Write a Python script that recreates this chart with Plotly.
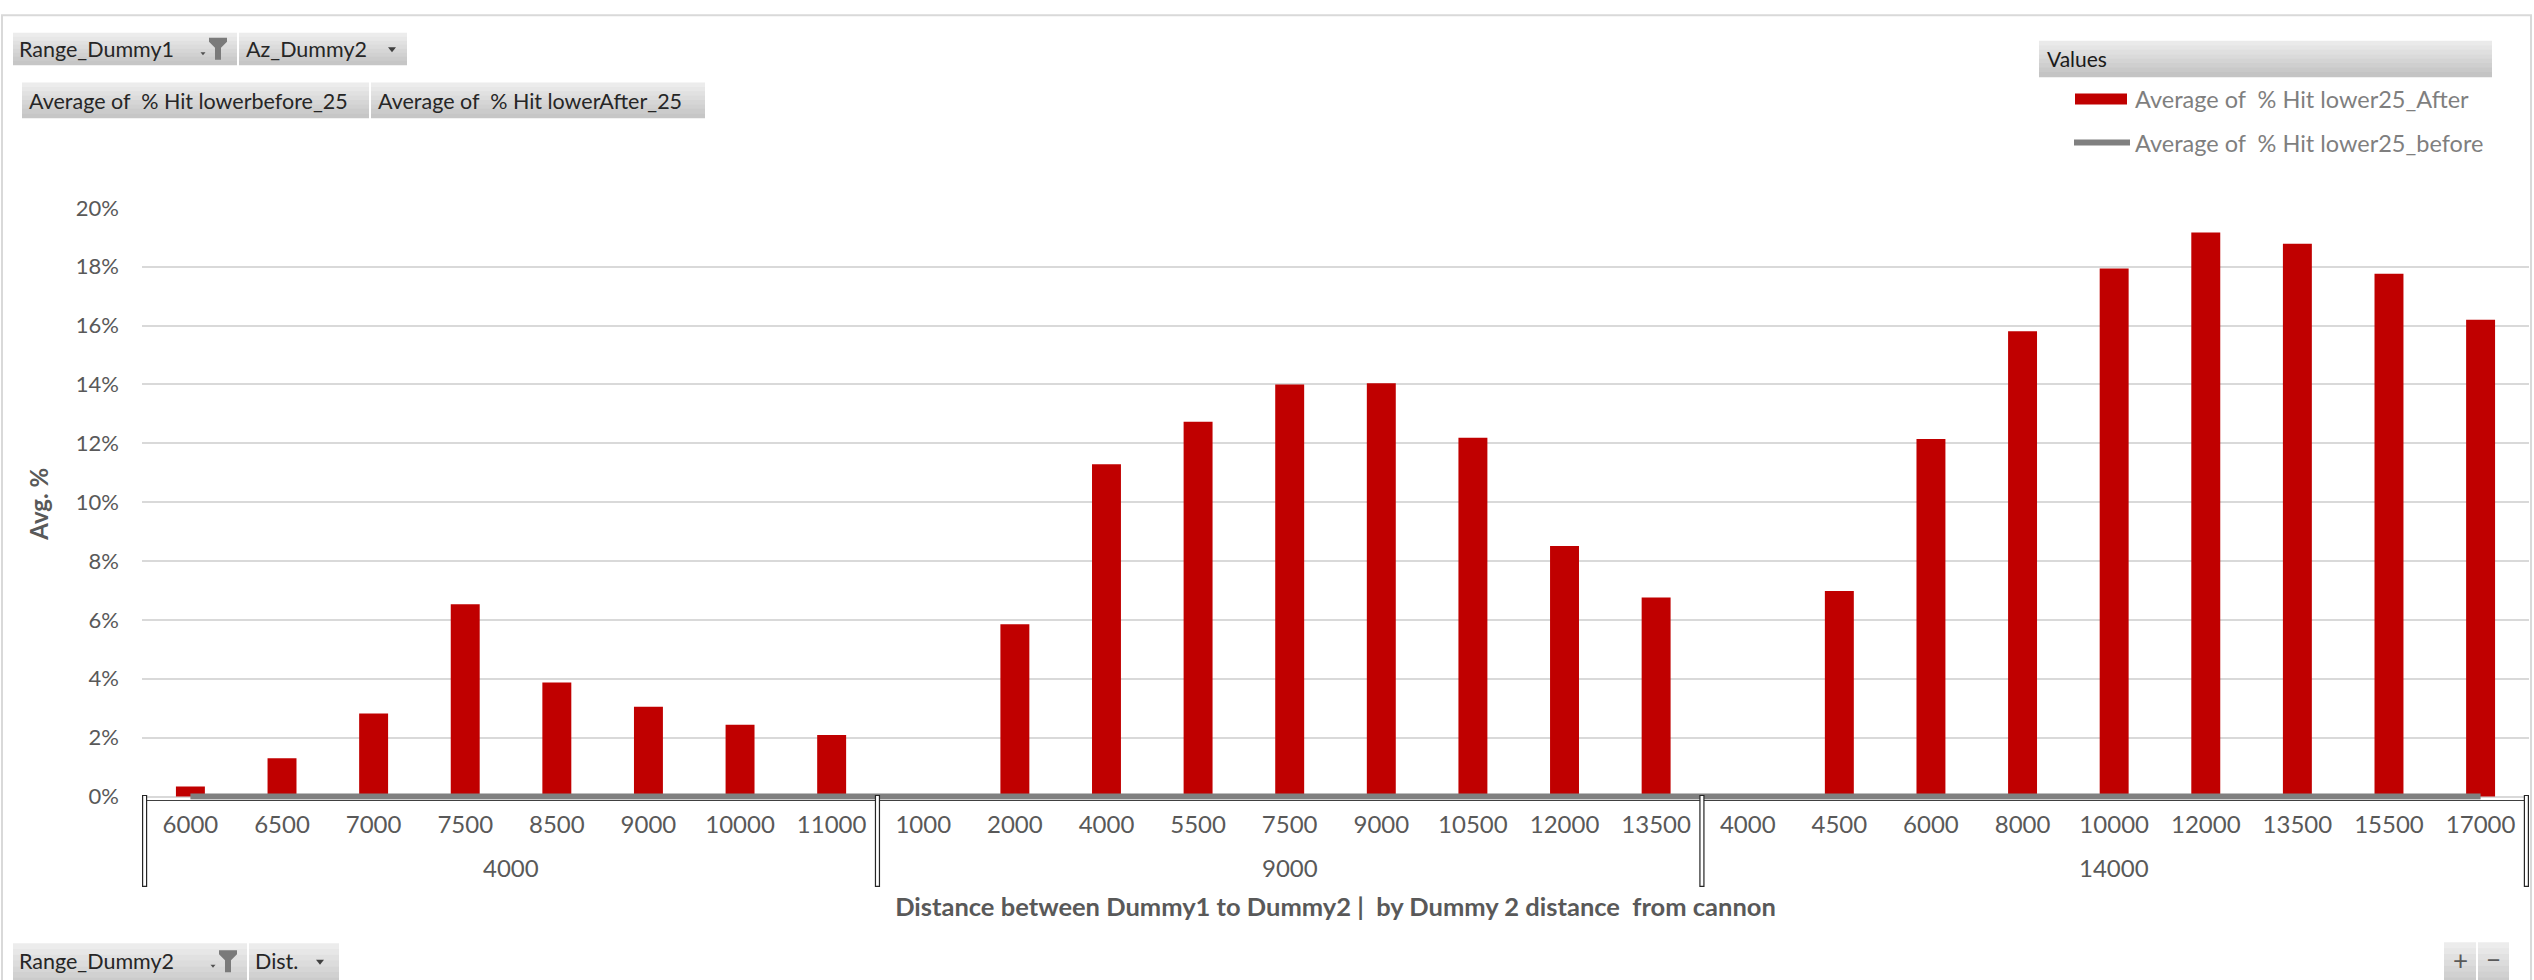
import plotly.graph_objects as go

W, H = 2534, 980

# Pivot rows: outer level = Range_Dummy2, inner level = Dist.
groups = ["4000", "9000", "14000"]
dist_4000 = ["6000", "6500", "7000", "7500", "8500", "9000", "10000", "11000"]
dist_9000 = ["1000", "2000", "4000", "5500", "7500", "9000", "10500", "12000", "13500"]
dist_14000 = ["4000", "4500", "6000", "8000", "10000", "12000", "13500", "15500", "17000"]

hit_after_4000 = [0.0034, 0.0130, 0.0282, 0.0653, 0.0387, 0.0305, 0.0244, 0.0209]
hit_after_9000 = [0.0, 0.0585, 0.1129, 0.1273, 0.1400, 0.1404, 0.1219, 0.0851, 0.0676]
hit_after_14000 = [0.0, 0.0698, 0.1215, 0.1581, 0.1794, 0.1916, 0.1878, 0.1776, 0.1620]

hit_before_4000 = [0, 0, 0, 0, 0, 0, 0, 0]
hit_before_9000 = [0, 0, 0, 0, 0, 0, 0, 0, 0]
hit_before_14000 = [0, 0, 0, 0, 0, 0, 0, 0, 0]

y_ticks = [0, 0.02, 0.04, 0.06, 0.08, 0.10, 0.12, 0.14, 0.16, 0.18, 0.20]

dist_lists = [dist_4000, dist_9000, dist_14000]
keys = [g + "|" + d for g, dl in zip(groups, dist_lists) for d in dl]
inner = dist_4000 + dist_9000 + dist_14000
after = hit_after_4000 + hit_after_9000 + hit_after_14000
before = hit_before_4000 + hit_before_9000 + hit_before_14000

RED = "#c00000"
GREY_LINE = "#808080"
TXT = "#595959"
FONT = "Lato"

# vertical placement helper: screen rows are mapped through a small
# offset/scale so the layout sits where intended in the final page
Y_OFF, Y_SCALE = 13.3, 0.977


def px(x):
    return x / W


def row(y):
    return (y - Y_OFF) / Y_SCALE


def py(y):
    return 1 - row(y) / H


fig = go.Figure()
fig.add_trace(go.Bar(
    x=keys, y=after, marker=dict(color=RED, line=dict(width=0)),
    name="Average of  % Hit lower25_After", showlegend=False,
))
fig.add_trace(go.Scatter(
    x=keys, y=before, mode="lines",
    line=dict(color=GREY_LINE, width=6),
    name="Average of  % Hit lower25_before", showlegend=False,
))

shapes = []
annotations = []


def gradient_box(x0, y0, x1, y1, top=(236, 236, 236), bottom=(198, 198, 198), n=8):
    step = (y1 - y0) / n
    for i in range(n):
        t = i / (n - 1)
        c = tuple(int(round(a + (b - a) * t)) for a, b in zip(top, bottom))
        shapes.append(dict(
            type="rect", xref="paper", yref="paper",
            x0=px(x0), x1=px(x1), y0=py(y0 + i * step), y1=py(y0 + (i + 1) * step + 0.6),
            fillcolor="rgb(%d,%d,%d)" % c, line=dict(width=0), layer="above",
        ))


def label(x, y, text, size=21.5, color="#262626", anchor="left"):
    annotations.append(dict(
        xref="paper", yref="paper", x=px(x), y=py(y), text=text,
        showarrow=False, xanchor=anchor, yanchor="middle",
        font=dict(family=FONT, size=size, color=color),
    ))


def down_arrow(cx, cy, w=8, h=5, color="#404040"):
    path = "M %f %f L %f %f L %f %f Z" % (
        px(cx - w / 2), py(cy - h / 2), px(cx + w / 2), py(cy - h / 2), px(cx), py(cy + h / 2))
    shapes.append(dict(type="path", xref="paper", yref="paper", path=path,
                       fillcolor=color, line=dict(width=0), layer="above"))


def funnel(cx, cy, color="#7a7a7a"):
    pts = [(cx - 9, cy - 11), (cx + 9, cy - 11), (cx + 9, cy - 7), (cx + 3, cy - 1),
           (cx + 3, cy + 11), (cx - 3, cy + 11), (cx - 3, cy - 1), (cx - 9, cy - 7)]
    path = "M " + " L ".join("%f %f" % (px(a), py(b)) for a, b in pts) + " Z"
    shapes.append(dict(type="path", xref="paper", yref="paper", path=path,
                       fillcolor=color, line=dict(width=0), layer="above"))
    down_arrow(cx - 15, cy + 5, w=5, h=3, color="#505050")


# outer chart frame
shapes.append(dict(type="rect", xref="paper", yref="paper", x0=px(2), x1=px(2531), y0=py(14.5), y1=py(1020),
                   line=dict(color="#d9d9d9", width=2), fillcolor="rgba(0,0,0,0)", layer="below"))

# field buttons, top rows
gradient_box(13, 32, 237, 64)
label(17, 48, "Range_Dummy1")
funnel(218, 48)
gradient_box(239, 32, 407, 64)
label(244, 48, "Az_Dummy2")
down_arrow(392, 49)
gradient_box(22, 82, 369, 117)
label(27, 100, "Average of \u00a0% Hit lowerbefore_25")
gradient_box(371, 82, 705, 117)
label(376, 100, "Average of \u00a0% Hit lowerAfter_25")

# field buttons, bottom row
gradient_box(13, 944, 247, 990)
label(17, 962, "Range_Dummy2")
funnel(228, 962)
gradient_box(249, 944, 339, 990)
label(253, 962, "Dist.")
down_arrow(320, 963)

# zoom buttons
gradient_box(2444, 943, 2476, 990)
label(2460, 961, "+", size=26, color="#595959", anchor="center")
gradient_box(2478, 943, 2509, 990)
label(2493.5, 960, "\u2212", size=26, color="#595959", anchor="center")

# legend block
gradient_box(2039, 40, 2492, 76, top=(234, 234, 234), bottom=(196, 196, 196))
label(2045, 58, "Values", size=21, color="#1a1a1a")
shapes.append(dict(type="rect", xref="paper", yref="paper", x0=px(2075), x1=px(2127), y0=py(93), y1=py(104),
                   fillcolor=RED, line=dict(width=0)))
label(2133, 98.5, "Average of \u00a0% Hit lower25_After", size=23.5, color="#7f7f7f")
shapes.append(dict(type="line", xref="paper", yref="paper", x0=px(2074), x1=px(2130), y0=py(142), y1=py(142),
                   line=dict(color=GREY_LINE, width=6)))
label(2133, 142, "Average of \u00a0% Hit lower25_before", size=23.5, color="#7f7f7f")

# plot area geometry
x_left, x_right = 142, 2529
y_top, y_zero = 207.5, 797.0
per_unit = (row(y_zero) - row(y_top)) / 0.20
y_min = -3.2 / per_unit
bottom_row = row(y_zero) + 3.2

# outer-level group labels and double-line dividers on the category axis
start = 0
bounds = [-0.5]
for g, dl in zip(groups, dist_lists):
    annotations.append(dict(
        xref="x", yref="paper", x=start + (len(dl) - 1) / 2, y=py(868), text=g,
        showarrow=False, xanchor="center", yanchor="middle",
        font=dict(family=FONT, size=24, color=TXT),
    ))
    start += len(dl)
    bounds.append(start - 0.5)
for b in bounds:
    shapes.append(dict(
        type="rect", xref="x", yref="paper", xsizemode="pixel", xanchor=b, x0=-2, x1=2,
        y0=py(887), y1=py(y_zero - 1), line=dict(color="#262626", width=1.2), fillcolor="white",
    ))

fig.update_layout(
    width=W, height=H,
    margin=dict(l=0, r=0, t=0, b=0),
    paper_bgcolor="white", plot_bgcolor="white",
    font=dict(family=FONT, color=TXT),
    bargap=0.684,
    shapes=shapes, annotations=annotations,
    xaxis=dict(
        type="category", domain=[px(x_left), px(x_right)],
        tickvals=keys, ticktext=inner, tickangle=0,
        showgrid=False, zeroline=False,
        showline=True, linecolor="#404040", linewidth=1,
        ticks="", ticklabelstandoff=4,
        tickfont=dict(family=FONT, size=24, color=TXT),
        title=dict(text="<b>Distance between Dummy1 to Dummy2 | \u00a0by Dummy 2 distance \u00a0from cannon</b>",
                   font=dict(family=FONT, size=25.5, color=TXT), standoff=60),
    ),
    yaxis=dict(
        domain=[1 - bottom_row / H, py(y_top)],
        range=[y_min, 0.20],
        tickvals=y_ticks, tickformat=".0%",
        showgrid=True, gridcolor="#d9d9d9", gridwidth=2,
        zeroline=False, showline=False, ticks="",
        ticklabelstandoff=22,
        tickfont=dict(family=FONT, size=22, color=TXT),
        title=dict(text="<b>Avg. %</b>", font=dict(family=FONT, size=24, color=TXT), standoff=20),
    ),
)

fig.write_html("out.html")
